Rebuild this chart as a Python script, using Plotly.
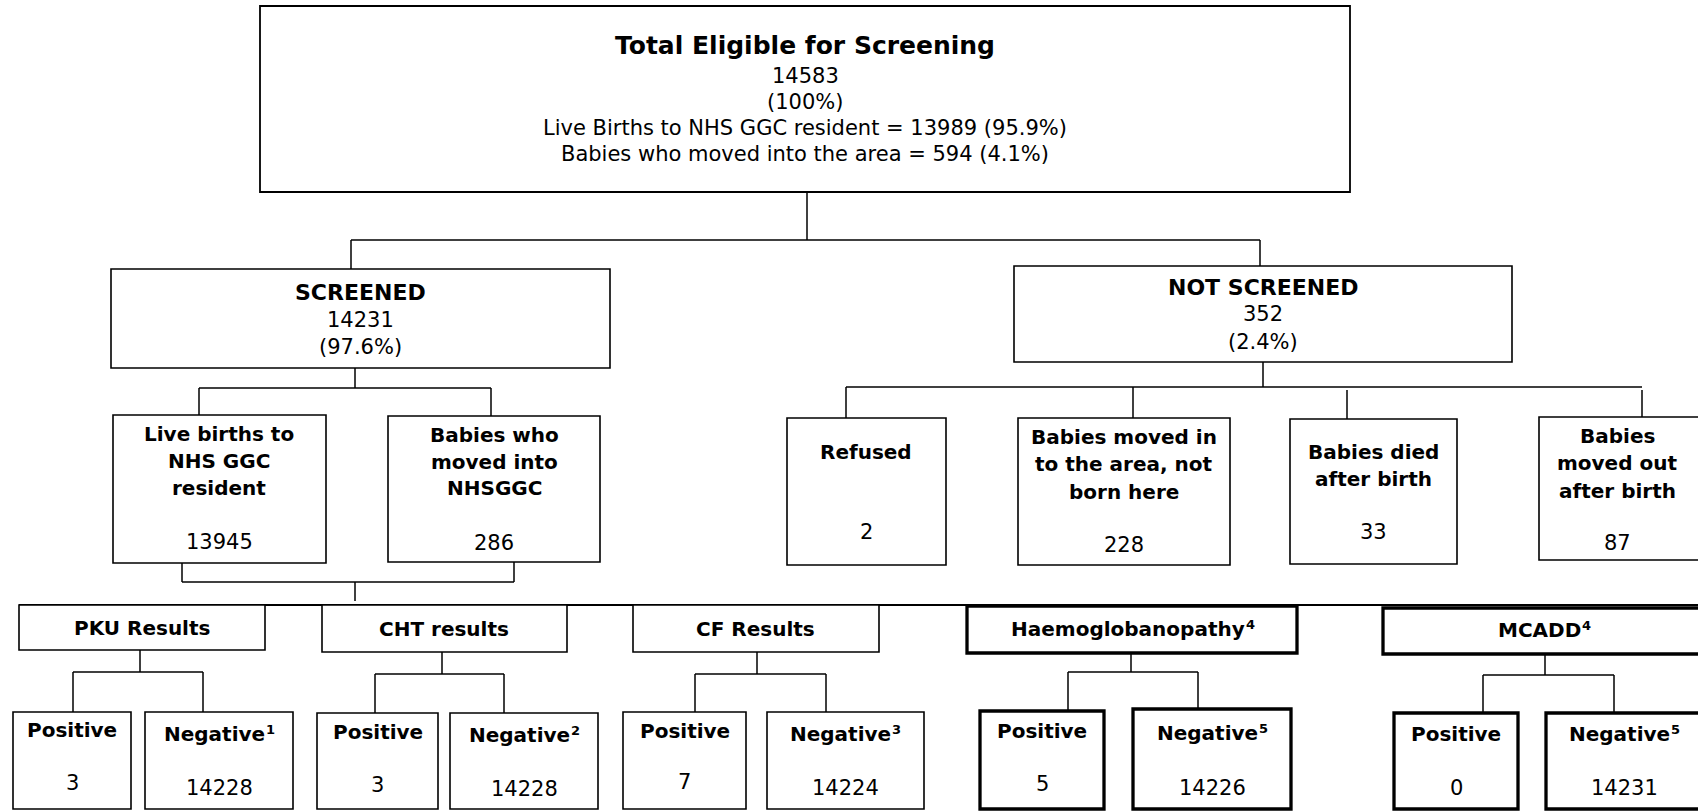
import plotly.graph_objects as go

# ---------------- DATA ----------------
top_title = "Total Eligible for Screening"
total_eligible = 14583
total_pct = "100%"
resident_births = 13989
resident_pct = 95.9
moved_in_births = 594
moved_in_pct = 4.1

screened_label = "SCREENED"
screened_count = 14231
screened_pct = 97.6
not_screened_label = "NOT SCREENED"
not_screened_count = 352
not_screened_pct = 2.4

screened_groups = [["Live births to", "NHS GGC", "resident"],
                   ["Babies who", "moved into", "NHSGGC"]]
screened_group_counts = [13945, 286]

not_screened_groups = [["Refused"],
                       ["Babies moved in", "to the area, not", "born here"],
                       ["Babies died", "after birth"],
                       ["Babies", "moved out", "after birth"]]
not_screened_group_counts = [2, 228, 33, 87]

test_names = ["PKU Results", "CHT results", "CF Results", "Haemoglobanopathy", "MCADD"]
test_notes = ["", "", "", "4", "4"]
positive_counts = [3, 3, 7, 5, 0]
negative_counts = [14228, 14228, 14224, 14226, 14231]
negative_notes = ["1", "2", "3", "5", "5"]

# ---------------- LAYOUT (positions / styles) ----------------
W, H = 1698, 811
FONT = "DejaVu Sans"
THIN, THICK, CONN = 1.6, 3.3, 1.5
LBL, NUM, SUPSZ = 20, 21, 13

# approximate DejaVu Sans Bold advance widths (em) for superscript placement
BOLD_W = {"N": .837, "e": .678, "g": .716, "a": .675, "t": .478, "i": .343, "v": .652,
          "H": .837, "m": 1.042, "o": .687, "l": .343, "b": .716, "n": .712, "p": .716,
          "h": .712, "y": .652, "M": .995, "C": .734, "A": .774, "D": .830}

top_box = dict(x0=260, x1=1350, y0=6, y1=192, cx=805, ys=[45, 76, 102, 128, 154])
lvl2 = [dict(x0=111, x1=610, y0=269, y1=368, cx=360, ys=[292, 320, 347]),
        dict(x0=1014, x1=1512, y0=266, y1=362, cx=1263, ys=[287, 314, 342])]
lvl3_s = [dict(x0=113, x1=326, y0=415, y1=563, cx=219, ys=[434, 461, 488], ny=542),
          dict(x0=388, x1=600, y0=416, y1=562, cx=494, ys=[435, 462, 488], ny=543)]
lvl3_n = [dict(x0=787, x1=946, y0=418, y1=565, cx=866, ys=[452], ny=532),
          dict(x0=1018, x1=1230, y0=418, y1=565, cx=1124, ys=[437, 464, 492], ny=545),
          dict(x0=1290, x1=1457, y0=419, y1=564, cx=1373, ys=[452, 479], ny=532),
          dict(x0=1539, x1=1702, y0=417, y1=560, cx=1617, ys=[436, 463, 491], ny=543)]
headers = [dict(x0=19, x1=265, y0=605, y1=650, cx=142, cy=628, w=THIN),
           dict(x0=322, x1=567, y0=605, y1=652, cx=444, cy=629, w=THIN),
           dict(x0=633, x1=879, y0=605, y1=652, cx=755, cy=629, w=THIN),
           dict(x0=967, x1=1297, y0=606, y1=653, cx=1133, cy=629, w=THICK),
           dict(x0=1383, x1=1705, y0=608, y1=654, cx=1544, cy=630, w=THICK)]
pos_boxes = [dict(x0=13, x1=131, y0=712, ly=730, ny=783),
             dict(x0=317, x1=438, y0=713, ly=732, ny=785),
             dict(x0=623, x1=746, y0=712, ly=731, ny=782),
             dict(x0=980, x1=1104, y0=711, ly=731, ny=784),
             dict(x0=1394, x1=1518, y0=713, ly=734, ny=788)]
neg_boxes = [dict(x0=145, x1=293, y0=712, ly=734, ny=788),
             dict(x0=450, x1=598, y0=713, ly=735, ny=789),
             dict(x0=767, x1=924, y0=712, ly=734, ny=788),
             dict(x0=1133, x1=1291, y0=709, ly=733, ny=788),
             dict(x0=1546, x1=1702, y0=713, ly=734, ny=788, cx=1624)]
box_bottom = 809
stems = [dict(x=140, y=672, bx=(73, 203)),
         dict(x=442, y=674, bx=(375, 504)),
         dict(x=757, y=674, bx=(695, 826)),
         dict(x=1131, y=672, bx=(1068, 1198)),
         dict(x=1545, y=675, bx=(1483, 1614))]

shapes = []
annots = []


def rect(x0, x1, y0, y1, w=THIN):
    shapes.append(dict(type="rect", xref="x", yref="y", x0=x0, x1=x1, y0=y0, y1=y1,
                       line=dict(color="black", width=w), fillcolor="white", layer="below"))


def seg(x0, y0, x1, y1, w=CONN):
    shapes.append(dict(type="line", xref="x", yref="y", x0=x0, x1=x1, y0=y0, y1=y1,
                       line=dict(color="black", width=w), layer="below"))


def txt(x, y, s, size=NUM, bold=False, anchor="center"):
    if bold:
        s = "<b>" + s + "</b>"
    annots.append(dict(x=x, y=y, xref="x", yref="y", text=s, showarrow=False,
                       xanchor=anchor, yanchor="middle", borderpad=0, borderwidth=0,
                       font=dict(family=FONT, size=size, color="black")))


def txt_sup(cx, y, word, note):
    """Bold word with a raised footnote number, centred as a whole on cx."""
    if not note:
        txt(cx, y, word, size=LBL, bold=True)
        return
    ww = sum(BOLD_W.get(c, .68) for c in word) * LBL
    sw = .696 * SUPSZ + 1
    xr = cx + (ww - sw) / 2
    txt(xr, y, word, size=LBL, bold=True, anchor="right")
    txt(xr + 1, y - 5, note, size=SUPSZ, bold=True, anchor="left")


# connectors (drawn first)
seg(807, 192, 807, 240)
seg(351, 240, 1260, 240)
seg(351, 240, 351, 269)
seg(1260, 240, 1260, 266)
seg(355, 368, 355, 388)
seg(199, 388, 491, 388)
seg(199, 388, 199, 415)
seg(491, 388, 491, 416)
seg(1263, 362, 1263, 387)
seg(846, 387, 1642, 387)
seg(846, 387, 846, 418)
seg(1133, 387, 1133, 418)
seg(1347, 390, 1347, 423)
seg(1642, 390, 1642, 422)
seg(182, 563, 182, 582)
seg(514, 562, 514, 582)
seg(182, 582, 514, 582)
seg(355, 582, 355, 601)
for hdr, st, p, n in zip(headers, stems, pos_boxes, neg_boxes):
    seg(st["x"], hdr["y1"], st["x"], st["y"])
    seg(st["bx"][0], st["y"], st["bx"][1], st["y"])
    seg(st["bx"][0], st["y"], st["bx"][0], p["y0"])
    seg(st["bx"][1], st["y"], st["bx"][1], n["y0"])

# top box
rect(top_box["x0"], top_box["x1"], top_box["y0"], top_box["y1"], 1.8)
top_lines = [top_title, f"{total_eligible}", f"({total_pct})",
             f"Live Births to NHS GGC resident = {resident_births} ({resident_pct}%)",
             f"Babies who moved into the area = {moved_in_births} ({moved_in_pct}%)"]
for i, (s, y) in enumerate(zip(top_lines, top_box["ys"])):
    txt(top_box["cx"], y, s, size=25 if i == 0 else 21, bold=(i == 0))

# level 2
for b, (lab, cnt, pct) in zip(lvl2, [(screened_label, screened_count, screened_pct),
                                     (not_screened_label, not_screened_count, not_screened_pct)]):
    rect(b["x0"], b["x1"], b["y0"], b["y1"])
    txt(b["cx"], b["ys"][0], lab, size=22, bold=True)
    txt(b["cx"], b["ys"][1], f"{cnt}", size=21)
    txt(b["cx"], b["ys"][2], f"({pct}%)", size=21)

# level 3
for b, lines, cnt in zip(lvl3_s + lvl3_n, screened_groups + not_screened_groups,
                         screened_group_counts + not_screened_group_counts):
    rect(b["x0"], b["x1"], b["y0"], b["y1"])
    for s, y in zip(lines, b["ys"]):
        txt(b["cx"], y, s, size=LBL, bold=True)
    txt(b["cx"], b["ny"], f"{cnt}", size=NUM)

# long bar
seg(19, 605, W + 10, 605, 2)

# level 4 headers
for h, name, note in zip(headers, test_names, test_notes):
    rect(h["x0"], h["x1"], h["y0"], h["y1"], h["w"])
    txt_sup(h["cx"], h["cy"], name, note)

# level 5
for i, (p, n) in enumerate(zip(pos_boxes, neg_boxes)):
    w = headers[i]["w"]
    rect(p["x0"], p["x1"], p["y0"], box_bottom, w)
    rect(n["x0"], n["x1"], n["y0"], box_bottom, w)
    pcx = p.get("cx", (p["x0"] + p["x1"]) / 2)
    ncx = n.get("cx", (n["x0"] + n["x1"]) / 2)
    txt(pcx, p["ly"], "Positive", size=LBL, bold=True)
    txt(pcx, p["ny"], f"{positive_counts[i]}", size=NUM)
    txt_sup(ncx, n["ly"], "Negative", negative_notes[i])
    txt(ncx, n["ny"], f"{negative_counts[i]}", size=NUM)

fig = go.Figure()
fig.add_trace(go.Scatter(x=[0], y=[0], mode="markers", marker=dict(opacity=0),
                         hoverinfo="skip", showlegend=False))
fig.update_layout(width=W, height=H, margin=dict(l=0, r=0, t=0, b=0),
                  paper_bgcolor="white", plot_bgcolor="white",
                  xaxis=dict(range=[0, W], visible=False, fixedrange=True),
                  yaxis=dict(range=[H, 0], visible=False, fixedrange=True),
                  shapes=shapes, annotations=annots, showlegend=False)
fig.write_html("out.html", config={"displayModeBar": False},
               post_script="document.body.style.margin='0';document.body.style.overflow='hidden';")
